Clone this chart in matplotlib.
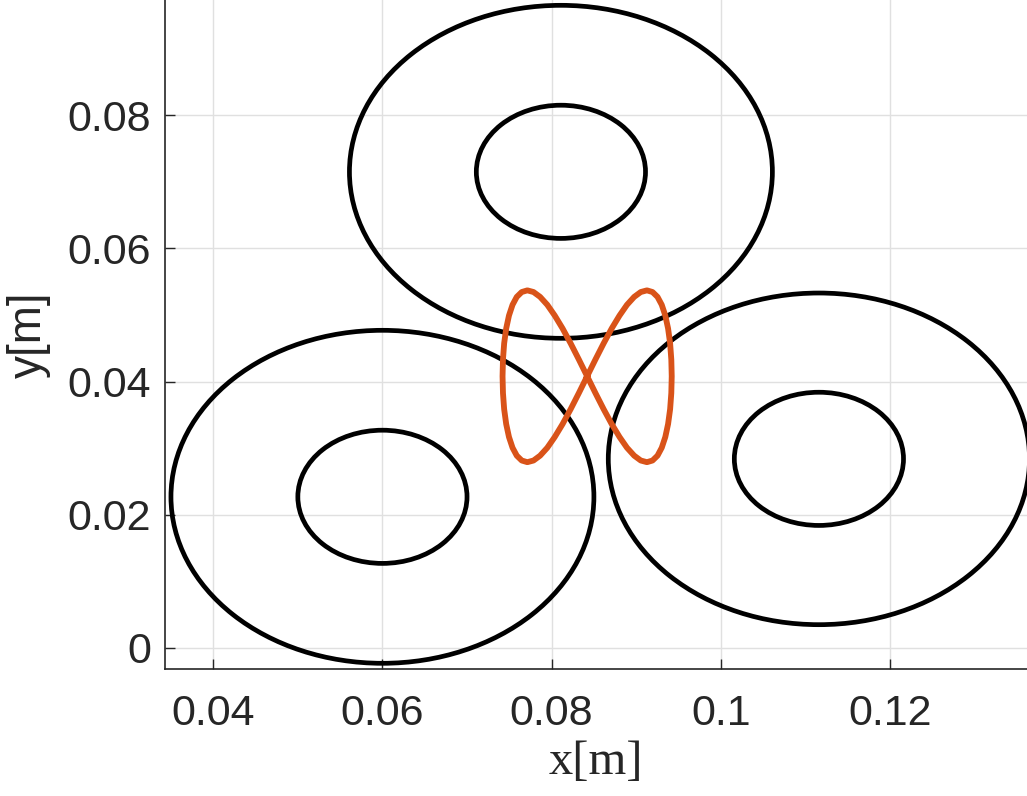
import matplotlib

matplotlib.use("Agg")
import matplotlib.pyplot as plt
from matplotlib.patches import Circle

AXIS = "#262626"
GRID = "#e0e0e0"
RING = "#000000"
PATH = "#D95319"

# annuli: centre x, centre y, outer radius, inner radius [m]
ring_x = [0.0811, 0.0600, 0.1116]
ring_y = [0.0715, 0.0227, 0.0284]
ring_outer = [0.0250, 0.0250, 0.0249]
ring_inner = [0.0100, 0.0100, 0.0100]

# figure-eight trajectory [m]
traj_x = [0.08420, 0.08518, 0.08615, 0.08710, 0.08803, 0.08891, 0.08976, 0.09054,
          0.09127, 0.09193, 0.09252, 0.09302, 0.09344, 0.09377, 0.09401, 0.09415,
          0.09420, 0.09415, 0.09401, 0.09377, 0.09344, 0.09302, 0.09252, 0.09193,
          0.09127, 0.09054, 0.08976, 0.08891, 0.08803, 0.08710, 0.08615, 0.08518,
          0.08420, 0.08322, 0.08225, 0.08130, 0.08037, 0.07949, 0.07864, 0.07786,
          0.07713, 0.07647, 0.07588, 0.07538, 0.07496, 0.07463, 0.07439, 0.07425,
          0.07420, 0.07425, 0.07439, 0.07463, 0.07496, 0.07538, 0.07588, 0.07647,
          0.07713, 0.07786, 0.07864, 0.07949, 0.08037, 0.08130, 0.08225, 0.08322,
          0.08420]
traj_y = [0.04080, 0.04332, 0.04574, 0.04797, 0.04992, 0.05153, 0.05272, 0.05345,
          0.05370, 0.05345, 0.05272, 0.05153, 0.04992, 0.04797, 0.04574, 0.04332,
          0.04080, 0.03828, 0.03586, 0.03363, 0.03168, 0.03007, 0.02888, 0.02815,
          0.02790, 0.02815, 0.02888, 0.03007, 0.03168, 0.03363, 0.03586, 0.03828,
          0.04080, 0.04332, 0.04574, 0.04797, 0.04992, 0.05153, 0.05272, 0.05345,
          0.05370, 0.05345, 0.05272, 0.05153, 0.04992, 0.04797, 0.04574, 0.04332,
          0.04080, 0.03828, 0.03586, 0.03363, 0.03168, 0.03007, 0.02888, 0.02815,
          0.02790, 0.02815, 0.02888, 0.03007, 0.03168, 0.03363, 0.03586, 0.03828,
          0.04080]

x_ticks = [0.04, 0.06, 0.08, 0.10, 0.12]
x_labels = ["0.04", "0.06", "0.08", "0.1", "0.12"]
y_ticks = [0.0, 0.02, 0.04, 0.06, 0.08]
y_labels = ["0", "0.02", "0.04", "0.06", "0.08"]

fig = plt.figure(figsize=(10.27, 7.96), dpi=100)
ax = fig.add_axes([0.1607, 0.1596, 0.8393, 0.8404])

for cx, cy, ro, ri in zip(ring_x, ring_y, ring_outer, ring_inner):
    for r in (ro, ri):
        ax.add_patch(Circle((cx, cy), r, fill=False, edgecolor=RING,
                            linewidth=3.4, zorder=3))

ax.plot(traj_x, traj_y, color=PATH, linewidth=4.2, zorder=4,
        solid_joinstyle="round")

ax.set_xlim(0.0343, 0.1362)
ax.set_ylim(-0.00315, 0.0973)
ax.set_xticks(x_ticks, x_labels)
ax.set_yticks(y_ticks, y_labels)

ax.grid(True, color=GRID, linewidth=1.0, zorder=0)
ax.set_axisbelow(True)
for side in ("top", "right"):
    ax.spines[side].set_visible(False)
for side in ("left", "bottom"):
    ax.spines[side].set_color(AXIS)
    ax.spines[side].set_linewidth(1.2)
ax.tick_params(direction="in", length=7, width=1.0, colors=AXIS,
               labelsize=31)
ax.tick_params(axis="x", pad=18)
ax.tick_params(axis="y", pad=10)
for lbl in ax.get_xticklabels() + ax.get_yticklabels():
    lbl.set_family("Liberation Sans")

ax.set_xlabel("x[m]", family="Liberation Serif", fontsize=35, color=AXIS,
              labelpad=4)
ax.set_ylabel("y[m]", family="Liberation Sans", fontsize=33, color=AXIS,
              labelpad=12)

fig.savefig("out.png", dpi=100, facecolor="white")
